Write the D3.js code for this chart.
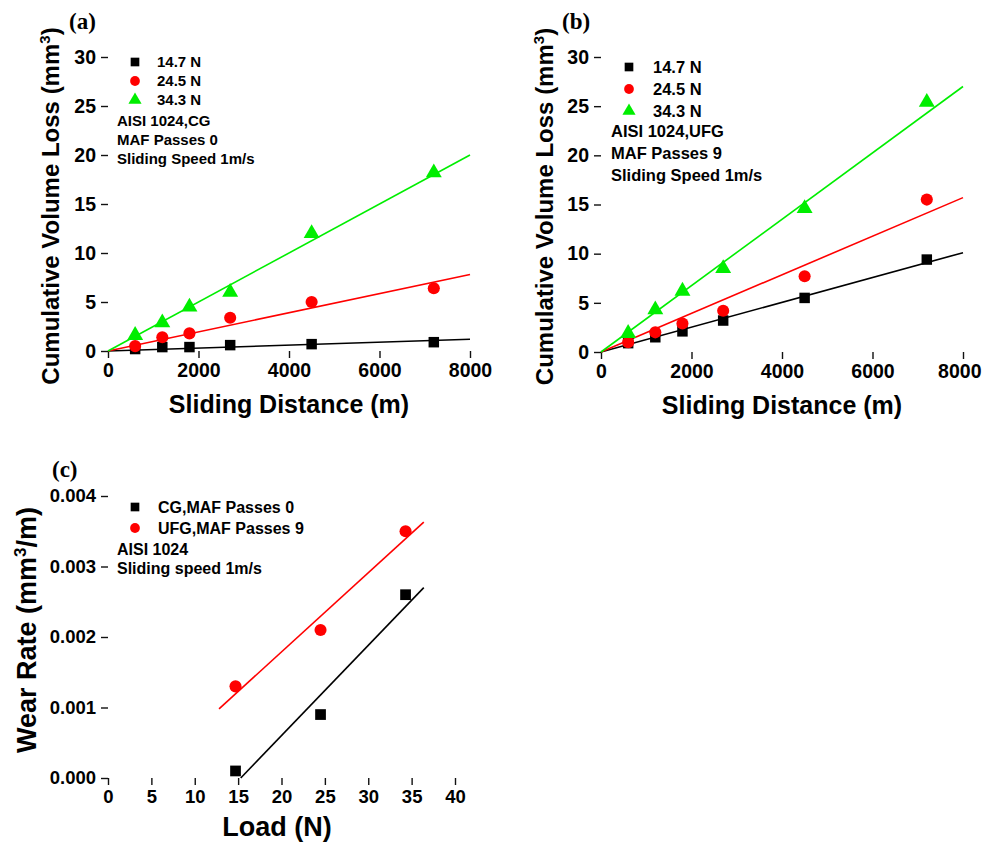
<!DOCTYPE html>
<html>
<head>
<meta charset="utf-8">
<script src="https://cdn.jsdelivr.net/npm/d3@7"></script>
<style>
body{margin:0;background:#fff}
svg{display:block}
text{font-family:"Liberation Sans",Arial,sans-serif;font-weight:bold;fill:#000}
</style>
</head>
<body>
<svg width="982" height="845"></svg>
<script>
// sliding distances (m) for panels a and b
const distances = [600, 1200, 1800, 2700, 4500, 7200]
const loadLabels = ["14.7 N", "24.5 N", "34.3 N"]

// panel a : CG, MAF passes 0 (mm^3)
const cg147 = [0.2, 0.4, 0.4, 0.6, 0.7, 0.9]
const cg245 = [0.5, 1.4, 1.8, 3.4, 5.0, 6.4]
const cg343 = [1.6, 2.9, 4.5, 6.0, 12.0, 18.2]
// fitted lines through origin, value at 8000 m
const cgFitEnd = [1.2, 7.8, 20.0]

// panel b : UFG, MAF passes 9 (mm^3)
const ufg147 = [0.9, 1.5, 2.1, 3.2, 5.5, 9.4]
const ufg245 = [1.0, 2.0, 2.9, 4.2, 7.7, 15.5]
const ufg343 = [1.9, 4.3, 6.2, 8.5, 14.6, 25.4]
const ufgFitEnd = [10.1, 15.7, 27.0]

// panel c : wear rate vs load
const loads = [14.7, 24.5, 34.3]
const rateCG = [0.0001, 0.0009, 0.0026]
const rateUFG = [0.0013, 0.0021, 0.0035]
const fitCG = [[15.3, 0], [36.4, 0.0027]]
const fitUFG = [[12.8, 0.00098], [36.4, 0.00363]]

const distTicks = [0, 2000, 4000, 6000, 8000]
const lossTicks = [0, 5, 10, 15, 20, 25, 30]
const loadTicks = [0, 5, 10, 15, 20, 25, 30, 35, 40]
const rateTicks = [0, 0.001, 0.002, 0.003, 0.004]

const colors = ["#000000", "#ff0000", "#00ee00"]
const shapes = [d3.symbolSquare, d3.symbolCircle, d3.symbolTriangle]
const markSize = [110, 115, 110]

const svg = d3.select("svg")

function axes(g, x, y, xt, xMinor, yt, yMinor, yFmt, fs){
  const ax = g.append("g").attr("transform", `translate(0,${y.range()[0]})`)
  ax.call(d3.axisBottom(x).tickValues(xMinor).tickSize(4).tickFormat(""))
  ax.call(d3.axisBottom(x).tickValues(xt).tickSize(7).tickPadding(5).tickFormat(d3.format("d")))
  const ay = g.append("g").attr("transform", `translate(${x.range()[0]},0)`)
  ay.call(d3.axisLeft(y).tickValues(yMinor).tickSize(4).tickFormat(""))
  ay.call(d3.axisLeft(y).tickValues(yt).tickSize(7).tickPadding(5).tickFormat(yFmt))
  g.selectAll(".domain").attr("stroke", "#111").attr("stroke-width", 1.6)
  g.selectAll(".tick line").attr("stroke", "#111").attr("stroke-width", 1.4)
  g.selectAll(".tick text").attr("font-size", fs).attr("font-family", "Liberation Sans, Arial, sans-serif").attr("font-weight", "bold").attr("fill", "#000")
  ax.selectAll("path.domain").filter((d, i) => i == 0).remove()
  ay.selectAll("path.domain").filter((d, i) => i == 0).remove()
  return ax
}

function distPanel(ox, oy, yBottom, xRight, series, fitEnd, label, lines, leg){
  const g = svg.append("g")
  const x = d3.scaleLinear().domain([0, 8000]).range([ox, xRight])
  const y = d3.scaleLinear().domain([0, 30]).range([yBottom, oy])
  const ax = axes(g, x, y, distTicks, d3.range(1000, 8000, 2000), lossTicks, d3.range(2.5, 30, 5), d3.format("d"), 19.5)
  if (xRight > 900) ax.selectAll(".tick text").filter(d => d == 8000).attr("text-anchor", "end").attr("x", 18)

  const line = d3.line().x(d => x(d[0])).y(d => y(d[1]))
  fitEnd.forEach((v, i) => {
    g.append("path").attr("d", line([[0, 0], [8000, v]]))
      .attr("stroke", colors[i]).attr("stroke-width", 1.6).attr("fill", "none")
  })
  series.forEach((s, i) => {
    g.selectAll(null).data(s).join("path")
      .attr("d", d3.symbol(shapes[i], markSize[i]))
      .attr("transform", (d, j) => `translate(${x(distances[j])},${y(d)})`)
      .attr("fill", colors[i])
  })

  // legend
  loadLabels.forEach((t, i) => {
    g.append("path").attr("d", d3.symbol(shapes[i], 75))
      .attr("transform", `translate(${leg.mx},${leg.y0 + i * leg.dy})`).attr("fill", colors[i])
    g.append("text").attr("x", leg.tx).attr("y", leg.y0 + i * leg.dy + leg.fs * 0.36)
      .attr("font-size", leg.fs).text(t)
  })
  lines.forEach((t, i) => {
    g.append("text").attr("x", leg.lx).attr("y", leg.l0 + i * leg.ldy)
      .attr("font-size", leg.fs).text(t)
  })

  g.append("text").attr("x", label.x).attr("y", label.y)
    .style("font-family", "Liberation Serif, Times New Roman, serif").attr("font-size", 23).text(label.t)

  const yt = g.append("text").attr("transform", `translate(${label.yx},${(yBottom + oy) / 2 + 2}) rotate(-90)`)
    .attr("text-anchor", "middle").attr("font-size", 24)
  yt.append("tspan").text("Cumulative Volume Loss (mm")
  yt.append("tspan").attr("dy", -9).attr("font-size", 15).text("3")
  yt.append("tspan").attr("dy", 9).text(")")

  g.append("text").attr("x", (ox + xRight) / 2).attr("y", yBottom + 62)
    .attr("text-anchor", "middle").attr("font-size", 25).text("Sliding Distance (m)")
}

distPanel(108, 57, 351, 470, [cg147, cg245, cg343], cgFitEnd,
  {t: "(a)", x: 69, y: 29, yx: 59},
  ["AISI 1024,CG", "MAF Passes 0", "Sliding Speed 1m/s"],
  {mx: 135, tx: 157, y0: 62, dy: 19, lx: 117, l0: 126, ldy: 19, fs: 15})

distPanel(601, 57, 352, 963, [ufg147, ufg245, ufg343], ufgFitEnd,
  {t: "(b)", x: 562, y: 29, yx: 553},
  ["AISI 1024,UFG", "MAF Passes 9", "Sliding Speed 1m/s"],
  {mx: 629, tx: 653, y0: 67, dy: 22, lx: 611, l0: 137, ldy: 22, fs: 16.5})

// panel c
{
  const g = svg.append("g")
  const x = d3.scaleLinear().domain([0, 40]).range([108, 455])
  const y = d3.scaleLinear().domain([0, 0.004]).range([778, 496])
  axes(g, x, y, loadTicks, d3.range(2.5, 40, 5), rateTicks, d3.range(0.0005, 0.004, 0.001), d3.format(".3f"), 18.5)
  g.selectAll(".domain").attr("stroke", "#333")

  const line = d3.line().x(d => x(d[0])).y(d => y(d[1]))
  g.append("path").attr("d", line(fitUFG)).attr("stroke", colors[1]).attr("stroke-width", 1.6).attr("fill", "none")
  g.append("path").attr("d", line(fitCG)).attr("stroke", colors[0]).attr("stroke-width", 1.6).attr("fill", "none")

  const sets = [rateCG, rateUFG]
  sets.forEach((s, i) => {
    g.selectAll(null).data(s).join("path")
      .attr("d", d3.symbol(shapes[i], 115))
      .attr("transform", (d, j) => `translate(${x(loads[j])},${y(d)})`)
      .attr("fill", colors[i])
  })

  const legText = ["CG,MAF Passes 0", "UFG,MAF Passes 9"]
  legText.forEach((t, i) => {
    g.append("path").attr("d", d3.symbol(shapes[i], 75))
      .attr("transform", `translate(135,${507 + i * 21})`).attr("fill", colors[i])
    g.append("text").attr("x", 158).attr("y", 507 + i * 21 + 6).attr("font-size", 16).text(t)
  })
  ;["AISI 1024", "Sliding speed 1m/s"].forEach((t, i) => {
    g.append("text").attr("x", 117).attr("y", 555 + i * 19).attr("font-size", 16).text(t)
  })

  g.append("text").attr("x", 52).attr("y", 477)
    .style("font-family", "Liberation Serif, Times New Roman, serif").attr("font-size", 23).text("(c)")

  const yt = g.append("text").attr("transform", `translate(36,630) rotate(-90)`)
    .attr("text-anchor", "middle").attr("font-size", 27)
  yt.append("tspan").text("Wear Rate (mm")
  yt.append("tspan").attr("dy", -10).attr("font-size", 17).text("3")
  yt.append("tspan").attr("dy", 10).text("/m)")

  g.append("text").attr("x", 277).attr("y", 836)
    .attr("text-anchor", "middle").attr("font-size", 27).text("Load (N)")
}
</script>
</body>
</html>
